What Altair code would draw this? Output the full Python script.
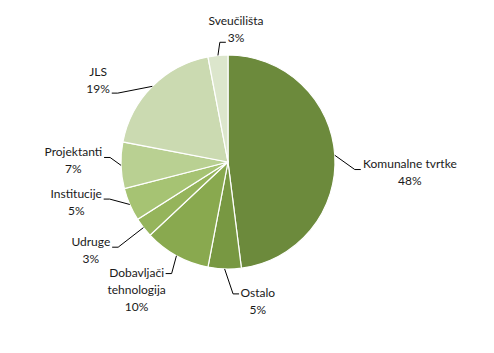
import math
import altair as alt
import pandas as pd

# ---- data ----
categories = ["Komunalne tvrtke", "Ostalo", "Dobavljači tehnologija", "Udruge",
              "Institucije", "Projektanti", "JLS", "Sveučilišta"]
shares = [48, 5, 10, 3, 5, 7, 19, 3]
label_names = [["Komunalne tvrtke"], ["Ostalo"], ["Dobavljači", "tehnologija"], ["Udruge"],
               ["Institucije"], ["Projektanti"], ["JLS"], ["Sveučilišta"]]
colors = ["#6c8a3c", "#789842", "#89a94f", "#95b45b", "#a6c373", "#b9d092", "#cbdab1", "#dce6cc"]

# ---- layout ----
W, H = 494, 353
CX, CY, R = 228, 162, 107
FONT = "Lato"
FONT_SIZE = 12
LINE_H = 17
# label placement: (angle shift from slice middle in degrees, elbow radius, attach line)
label_layout = [(7, 127, "mid"), (-4, 132, "first"), (-2, 125, "first"), (0, 139, "mid"),
                (6, 124, "mid"), (4, 118, "mid"), (-13, 130, "last"), (1.5, 120, "last")]

CHAR_W = {"a": 0.49, "b": 0.56, "c": 0.46, "č": 0.46, "d": 0.56, "e": 0.52, "g": 0.51,
          "h": 0.56, "i": 0.24, "j": 0.24, "k": 0.51, "l": 0.24, "n": 0.56, "o": 0.56,
          "r": 0.37, "s": 0.42, "š": 0.42, "t": 0.36, "u": 0.56, "v": 0.51, "m": 0.84,
          "K": 0.64, "O": 0.73, "P": 0.58, "S": 0.52, "I": 0.28, "J": 0.39, "L": 0.47,
          "U": 0.70, "D": 0.72, " ": 0.25, "%": 0.78}


def text_w(s):
    return sum(CHAR_W.get(c, 0.58 if c.isdigit() else 0.52) for c in s) * FONT_SIZE


total = sum(shares)
slices = pd.DataFrame({"category": categories, "share": shares, "order": list(range(len(shares)))})

line_rows, text_rows = [], []
cum = 0
for i, (cat, v) in enumerate(zip(categories, shares)):
    mid = (cum + v / 2) / total * 360
    cum += v
    shift, r_el, attach = label_layout[i]
    am = math.radians(mid)
    ae = math.radians(mid + shift)
    edge = (CX + R * math.sin(am), CY - R * math.cos(am))
    elbow = (CX + r_el * math.sin(ae), CY - r_el * math.cos(ae))
    side = 1 if math.sin(am) > -0.1 else -1
    end = (elbow[0] + side * 6, elbow[1])
    for k, p in enumerate([edge, elbow, end]):
        line_rows.append({"category": cat, "k": k, "x": p[0], "y": p[1]})
    lines = label_names[i] + [f"{v}%"]
    widths = [text_w(s) for s in lines]
    block_h = len(lines) * LINE_H
    if attach == "mid":
        w, dy = max(widths), 3
    elif attach == "first":
        w, dy = widths[0], (block_h - LINE_H) / 2 - 1
    else:
        w, dy = widths[-1], -(block_h - LINE_H) / 2 - 4
    # Vega puts the first line at y, so shift up to centre the block
    first_line_y = end[1] + dy - (len(lines) - 1) * LINE_H / 2
    text_rows.append({"category": cat, "label": "\n".join(lines),
                      "x": end[0] + side * (2 + w / 2), "y": first_line_y})

lines_df = pd.DataFrame(line_rows)
text_df = pd.DataFrame(text_rows)

xs = alt.Scale(domain=[0, W], range=[0, W])
ys = alt.Scale(domain=[0, H], range=[0, H])

pie = alt.Chart(slices).mark_arc(outerRadius=R, stroke="white", strokeWidth=1.2).encode(
    theta=alt.Theta("share:Q", stack=True),
    order=alt.Order("order:Q", sort="ascending"),
    color=alt.Color("category:N", scale=alt.Scale(domain=categories, range=colors), legend=None),
    x=alt.value(CX),
    y=alt.value(CY),
)

leaders = alt.Chart(lines_df).mark_line(color="#000000", strokeWidth=1).encode(
    x=alt.X("x:Q", scale=xs, axis=None),
    y=alt.Y("y:Q", scale=ys, axis=None),
    detail="category:N",
    order="k:Q",
)

labels = alt.Chart(text_df).mark_text(
    font=FONT, fontSize=FONT_SIZE, lineHeight=LINE_H, lineBreak="\n",
    align="center", baseline="middle", color="#1a1a1a",
).encode(
    x=alt.X("x:Q", scale=xs, axis=None),
    y=alt.Y("y:Q", scale=ys, axis=None),
    text="label:N",
)

chart = alt.layer(pie, leaders, labels).properties(
    width=W, height=H, padding=0, autosize=alt.AutoSizeParams(type="none"),
    background="white",
).configure_view(stroke=None)

chart.save("out.html", embed_options={"renderer": "svg", "actions": False})
